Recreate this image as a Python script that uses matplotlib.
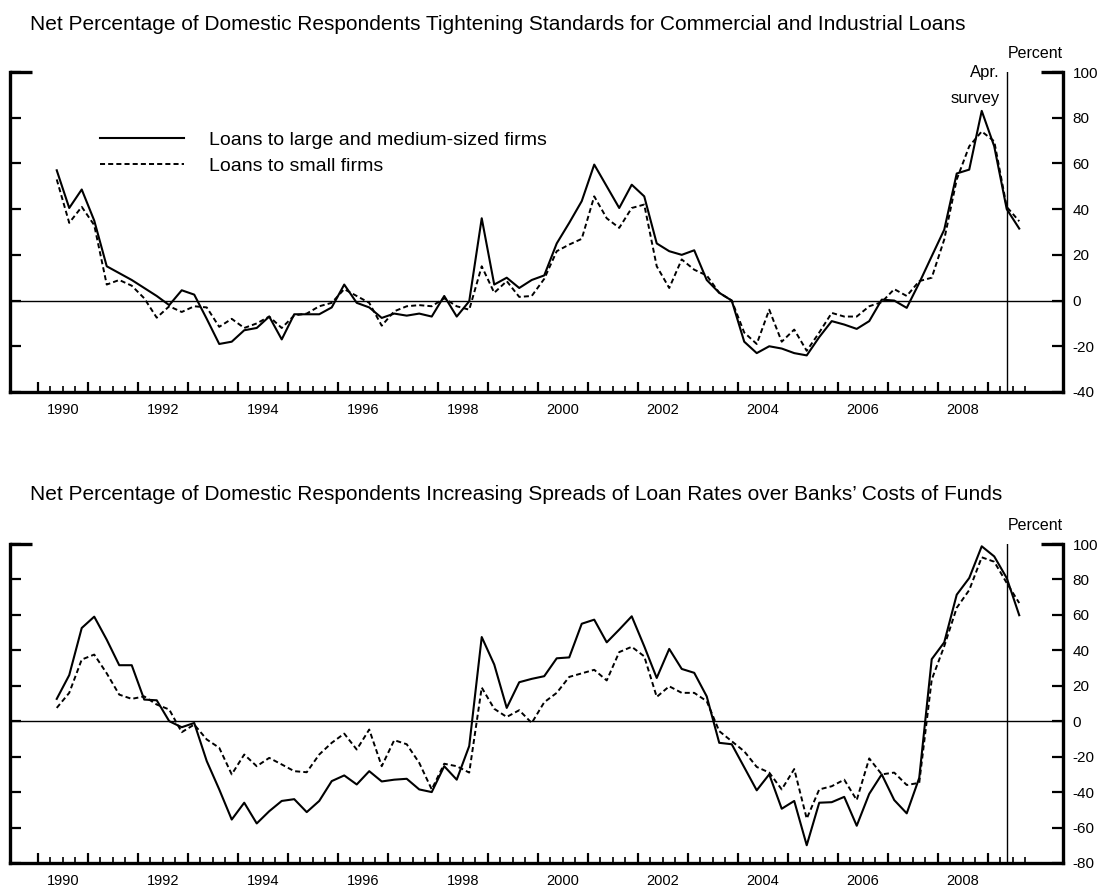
import numpy as np
import matplotlib.pyplot as plt
from matplotlib.ticker import FixedLocator

plt.rcParams['font.family'] = ['Liberation Sans', 'DejaVu Sans']
plt.rcParams['axes.unicode_minus'] = False

# quarterly survey dates, 1990:Q2 .. 2009:Q3
dates = 1990.375 + 0.25 * np.arange(78)

std_large = [57, 40.5, 48.6, 35, 15, 12, 9, 5.5, 2, -2, 4.5, 2.6, -8, -19, -18, -13,
             -12, -7, -17, -6, -6, -6, -3, 7, -1, -3, -7.6, -5.7, -6.6, -5.7, -7, 2,
             -7, -0.3, 36, 7, 10, 5.5, 9, 11, 25, 34, 43.5, 59.5, 50, 40.5, 50.7, 45.6,
             25, 21.6, 20, 22, 9, 3.4, 0, -18, -23, -20, -21, -23, -24, -16, -9, -10.5,
             -12.4, -9, 0.4, 0, -3.2, 7.7, 19.4, 31, 55.6, 57.3, 83, 67.5, 40, 31.5]
std_small = [53, 34, 41, 33, 7, 9, 6.5, 1, -7.5, -2.5, -5, -2.5, -3, -11.5, -8, -12,
             -10, -7, -12, -6.5, -5.7, -2.5, -1, 5, 2, -1, -11, -4.7, -2.5, -2, -2.5, 1,
             -2.5, -4, 15, 3.4, 8.5, 1.6, 2, 9.5, 21.6, 24.5, 27, 45.6, 36, 31.8, 40.5, 42,
             15, 5.5, 18, 13.5, 11, 3.4, 0, -14, -19, -4, -18, -12.7, -22, -14, -5.4, -7,
             -7, -2.5, -0.7, 5, 2, 8.5, 10, 26.7, 53, 67.5, 74, 69.7, 41, 34.7]

spr_large = [12.6, 26, 52.6, 59, 46, 31.6, 31.6, 12.2, 11.8, 0, -3.4, -1, -22.5, -38.5,
             -55.5, -46, -57.7, -50.8, -45, -44, -51.3, -45, -33.8, -30.6, -35.7, -28.2,
             -34, -33, -32.5, -38.5, -40, -25.4, -33, -14, 47.5, 32, 7.5, 22, 23.9, 25.4,
             35.5, 36, 55, 57.3, 44.5, 51.7, 59.2, 42.3, 24.4, 40.8, 29.5, 27.3, 14, -12.2,
             -13, -26, -39, -30, -49.4, -45, -70, -46, -45.7, -42.7, -59, -41, -30, -44.5,
             -52, -32, 35, 44.5, 71.4, 80.8, 98.7, 93, 80.8, 59.8]
spr_small = [7.5, 16, 34.8, 37.6, 27, 15, 12.6, 14, 9.4, 6.6, -6.2, -1.9, -10.3, -15,
             -30, -18.8, -25.4, -20.7, -24.4, -28.2, -28.8, -18.8, -12.2, -7, -16, -4.7,
             -25.4, -10.7, -13, -23.5, -38.5, -24, -25.4, -29, 19, 7, 2.4, 6.2, -1, 10.7,
             16, 25, 27, 29, 23, 39, 42, 36.6, 13.7, 19.7, 16, 16, 11.3, -5.6, -11.3, -17,
             -25.8, -29, -38.5, -27, -55, -38.5, -36.7, -33, -44.5, -21, -30, -29, -36,
             -34.8, 23.5, 42.3, 64, 74, 92.5, 90, 78, 66.7]

year_labels = [str(y) for y in range(1990, 2010, 2)]
survey_date = 2009.375

titles = ['Net Percentage of Domestic Respondents Tightening Standards for Commercial and Industrial Loans',
          'Net Percentage of Domestic Respondents Increasing Spreads of Loan Rates over Banks\u2019 Costs of Funds']

fig = plt.figure(figsize=(11.09, 8.86), dpi=100)
ax1 = fig.add_axes([0.009, 0.5576, 0.9495, 0.3611])
ax2 = fig.add_axes([0.009, 0.0260, 0.9495, 0.3600])

dash = (0, (2.6, 1.6))


def style_panel(ax, ylim, ystep):
    ax.set_xlim(1989.44, 2010.5)
    ax.set_ylim(*ylim)
    ax.spines['top'].set_visible(False)
    for s in ['left', 'right', 'bottom']:
        ax.spines[s].set_linewidth(2.4)
    ax.set_xticks(np.arange(1990, 2010))
    ax.xaxis.set_minor_locator(FixedLocator([q for q in np.arange(1990, 2010, 0.25) if q % 1 != 0]))
    ax.tick_params(axis='x', which='major', direction='in', length=7.5, width=1.6, labelbottom=False, top=False)
    ax.tick_params(axis='x', which='minor', direction='in', length=4, width=1.2, top=False)
    ax.set_yticks(np.arange(ylim[0], ylim[1] + 1, ystep))
    ax.tick_params(axis='y', direction='in', length=8, width=1.6, left=True, right=True,
                   labelleft=False, labelright=True, labelsize=11, pad=7)
    for lab in ax.get_yticklabels():
        lab.set_horizontalalignment('left')
    trans = ax.get_xaxis_transform()
    for lab in year_labels:
        ax.text(int(lab) + 0.5, -0.055, lab, transform=trans, ha='center', va='center', fontsize=10.5)
    # corner brackets at the top of the frame
    ytr = ax.get_yaxis_transform()
    ax.plot([0, 0.021], [ylim[1], ylim[1]], transform=ytr, color='black', lw=2.4, clip_on=False,
            solid_capstyle='butt')
    ax.plot([0.979, 1], [ylim[1], ylim[1]], transform=ytr, color='black', lw=2.4, clip_on=False,
            solid_capstyle='butt')
    ax.axhline(0, color='black', lw=1)
    ax.axvline(survey_date, color='black', lw=1)
    ax.text(1.0, 1.035, 'Percent', transform=ax.transAxes, ha='right', va='bottom', fontsize=11.5)


style_panel(ax1, (-40, 100), 20)
ax1.plot(dates, std_large, color='black', lw=1.5, label='Loans to large and medium-sized firms')
ax1.plot(dates, std_small, color='black', lw=1.4, ls=dash, label='Loans to small firms')
ax1.legend(loc='upper left', bbox_to_anchor=(0.0855, 0.815), frameon=False, fontsize=14,
           handlelength=4.3, handletextpad=1.3, borderpad=0, borderaxespad=0, labelspacing=0.45)
ax1.annotate('Apr.', xy=(survey_date, 100), xytext=(-5, 0), textcoords='offset points',
             ha='right', va='center', fontsize=12)
ax1.annotate('survey', xy=(survey_date, 100), xytext=(-5, -19), textcoords='offset points',
             ha='right', va='center', fontsize=12)

style_panel(ax2, (-80, 100), 20)
ax2.plot(dates, spr_large, color='black', lw=1.5)
ax2.plot(dates, spr_small, color='black', lw=1.4, ls=dash)

fig.text(0.027, 1 - 24 / 886, titles[0], ha='left', va='center', fontsize=15)
fig.text(0.027, 1 - 494 / 886, titles[1], ha='left', va='center', fontsize=15)

fig.savefig('out.png', dpi=100)
